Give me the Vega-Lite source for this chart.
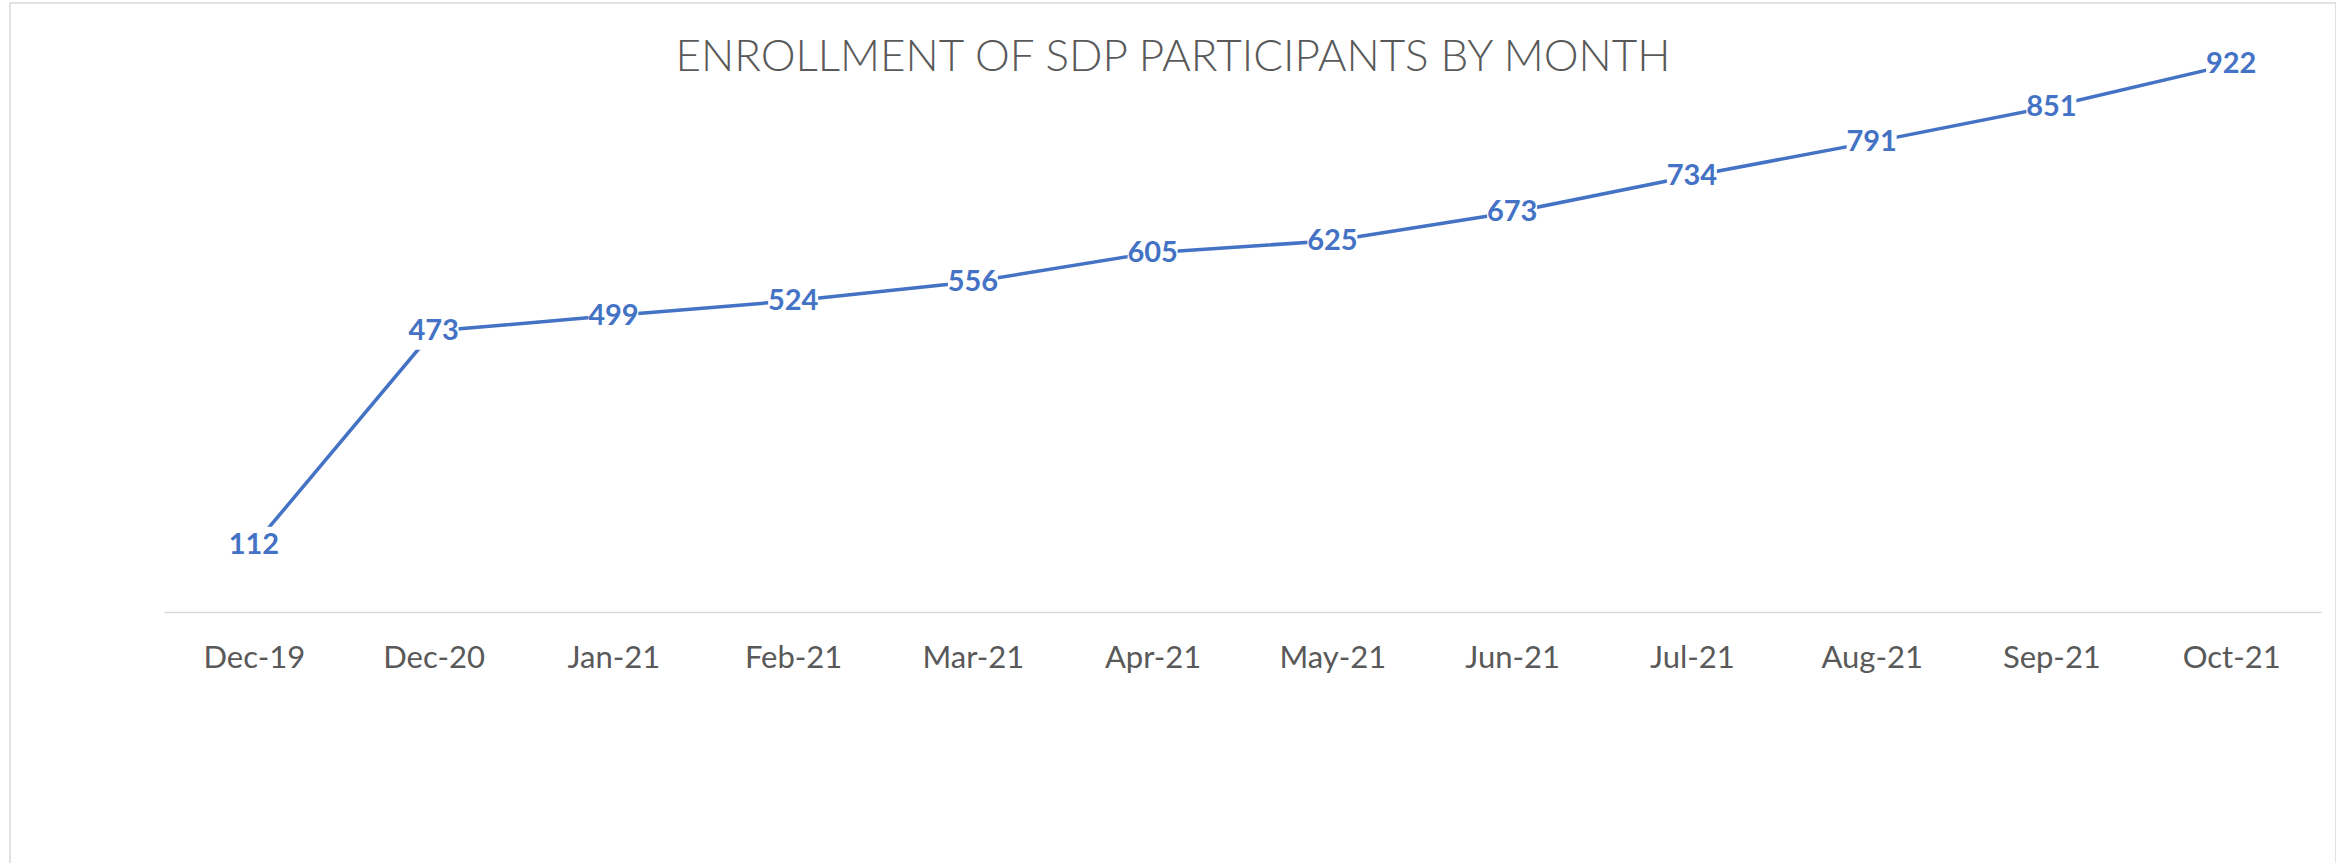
{
  "$schema": "https://vega.github.io/schema/vega-lite/v6.json",
  "width": 2326,
  "height": 865,
  "autosize": {"type": "none"},
  "padding": {"left": 10, "top": 3, "right": 0, "bottom": 0},
  "background": "white",
  "config": {"view": {"stroke": "#d9d9d9", "strokeWidth": 1.5}},
  "title": {
    "text": "ENROLLMENT OF SDP PARTICIPANTS BY MONTH",
    "anchor": "middle",
    "frame": "group",
    "orient": "top",
    "align": "center",
    "baseline": "middle",
    "dx": 0,
    "dy": 99,
    "offset": 0,
    "font": "Lato",
    "fontSize": 44,
    "fontWeight": 300,
    "color": "#595959"
  },
  "data": {
    "values": [
      {"month": "Dec-19", "enrolled": 112},
      {"month": "Dec-20", "enrolled": 473},
      {"month": "Jan-21", "enrolled": 499},
      {"month": "Feb-21", "enrolled": 524},
      {"month": "Mar-21", "enrolled": 556},
      {"month": "Apr-21", "enrolled": 605},
      {"month": "May-21", "enrolled": 625},
      {"month": "Jun-21", "enrolled": 673},
      {"month": "Jul-21", "enrolled": 734},
      {"month": "Aug-21", "enrolled": 791},
      {"month": "Sep-21", "enrolled": 851},
      {"month": "Oct-21", "enrolled": 922}
    ]
  },
  "encoding": {
    "x": {
      "field": "month",
      "type": "ordinal",
      "sort": null,
      "scale": {"type": "point", "padding": 0.5, "range": [154, 2311]},
      "axis": {
        "orient": "bottom",
        "offset": -256,
        "title": null,
        "grid": false,
        "ticks": false,
        "tickSize": 0,
        "domainColor": "#d9d9d9",
        "domainWidth": 1.5,
        "labelAngle": 0,
        "labelFont": "Lato",
        "labelFontSize": 31,
        "labelColor": "#595959",
        "labelBaseline": "middle",
        "labelPadding": 46
      }
    },
    "y": {
      "field": "enrolled",
      "type": "quantitative",
      "scale": {"domain": [0, 1000], "range": [609, 15]},
      "axis": null
    }
  },
  "layer": [
    {"mark": {"type": "line", "color": "#4472C4", "strokeWidth": 3.5}},
    {"mark": {"type": "point", "shape": "M-1,-0.75H1V0.75H-1Z", "size": 2500, "filled": true, "color": "white", "opacity": 1, "strokeWidth": 0}},
    {
      "mark": {"type": "text", "font": "Lato", "fontWeight": "bold", "fontSize": 29, "color": "#4472C4", "baseline": "middle", "align": "center"},
      "encoding": {"text": {"field": "enrolled", "type": "quantitative"}}
    }
  ]
}
